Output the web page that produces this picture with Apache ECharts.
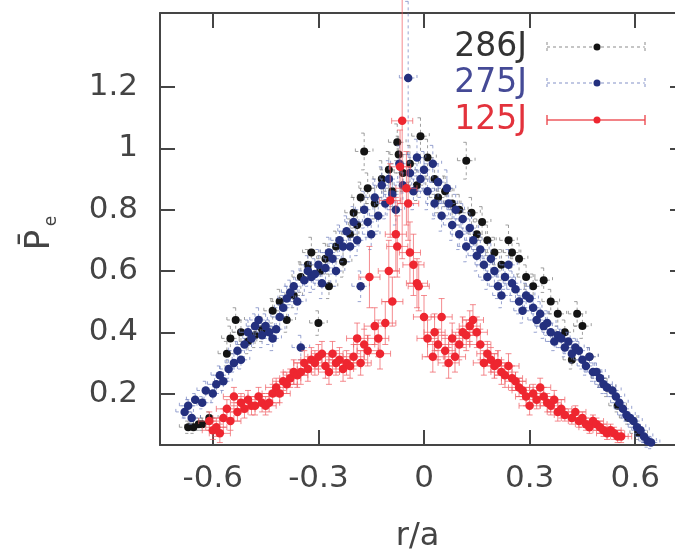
<!DOCTYPE html>
<html><head><meta charset="utf-8">
<script src="https://cdn.jsdelivr.net/npm/echarts@6/dist/echarts.min.js"></script>
<style>html,body{margin:0;padding:0;background:#fff}#c{width:675px;height:558px}</style>
</head><body><div id="c"></div>
<script>
// ---- data ----
const xTicks = [-0.6, -0.3, 0, 0.3, 0.6];
const yTicks = [0.2, 0.4, 0.6, 0.8, 1, 1.2];
const seriesNames = ['286J', '275J', '125J'];

const x286 = [-0.67,-0.655,-0.64,-0.63,-0.61,-0.56,-0.55,-0.535,-0.52,-0.50,-0.48,-0.46,-0.43,-0.41,-0.39,-0.37,-0.35,-0.33,-0.32,-0.30,-0.295,-0.28,-0.27,-0.25,-0.23,-0.21,-0.20,-0.19,-0.18,-0.17,-0.16,-0.14,-0.12,-0.10,-0.09,-0.076,-0.072,-0.06,-0.04,-0.02,-0.01,0.01,0.03,0.04,0.06,0.08,0.10,0.12,0.135,0.15,0.165,0.18,0.20,0.22,0.24,0.25,0.27,0.29,0.31,0.34,0.36,0.38,0.40,0.42,0.435,0.45,0.47,0.50,0.52,0.55,0.58,0.61];
const y286 = [0.09,0.09,0.10,0.10,0.12,0.33,0.38,0.44,0.40,0.37,0.39,0.41,0.47,0.50,0.44,0.52,0.58,0.62,0.66,0.43,0.60,0.64,0.55,0.68,0.63,0.72,0.79,0.75,0.84,0.99,0.87,0.82,0.90,0.93,0.86,1.02,0.98,0.92,0.95,0.88,1.04,0.97,0.90,0.84,0.86,0.82,0.80,0.96,0.79,0.72,0.76,0.70,0.66,0.62,0.70,0.66,0.64,0.58,0.55,0.57,0.50,0.46,0.40,0.31,0.46,0.42,0.32,0.25,0.22,0.16,0.12,0.07];
const dy286 = [0.02,0.02,0.02,0.02,0.02,0.04,0.04,0.04,0.04,0.04,0.04,0.04,0.04,0.04,0.04,0.04,0.05,0.05,0.05,0.04,0.05,0.05,0.04,0.05,0.05,0.05,0.05,0.05,0.05,0.06,0.05,0.05,0.06,0.06,0.05,0.06,0.06,0.06,0.06,0.05,0.06,0.06,0.05,0.05,0.05,0.05,0.05,0.06,0.05,0.05,0.05,0.05,0.05,0.05,0.05,0.05,0.05,0.04,0.04,0.04,0.04,0.04,0.04,0.03,0.04,0.04,0.03,0.03,0.03,0.02,0.02,0.02];
const dx286 = 0.025;

const x275 = [-0.68,-0.67,-0.66,-0.65,-0.63,-0.62,-0.60,-0.59,-0.58,-0.57,-0.555,-0.54,-0.53,-0.52,-0.51,-0.50,-0.49,-0.48,-0.47,-0.46,-0.45,-0.44,-0.43,-0.42,-0.41,-0.40,-0.39,-0.38,-0.37,-0.36,-0.35,-0.34,-0.33,-0.32,-0.31,-0.30,-0.29,-0.28,-0.27,-0.26,-0.25,-0.24,-0.23,-0.22,-0.21,-0.20,-0.19,-0.18,-0.17,-0.16,-0.15,-0.14,-0.13,-0.12,-0.11,-0.10,-0.09,-0.08,-0.07,-0.06,-0.045,-0.04,-0.03,-0.02,-0.01,0.00,0.01,0.025,0.03,0.04,0.05,0.065,0.07,0.08,0.09,0.10,0.11,0.12,0.13,0.14,0.15,0.16,0.17,0.18,0.19,0.20,0.21,0.22,0.23,0.24,0.25,0.26,0.27,0.28,0.29,0.30,0.31,0.32,0.33,0.34,0.35,0.36,0.37,0.38,0.39,0.40,0.41,0.42,0.43,0.44,0.45,0.46,0.47,0.48,0.49,0.50,0.51,0.52,0.535,0.545,0.555,0.565,0.575,0.585,0.595,0.605,0.615,0.625,0.635,0.645];
const y275 = [0.14,0.16,0.12,0.18,0.17,0.21,0.20,0.23,0.26,0.24,0.28,0.30,0.34,0.31,0.36,0.40,0.38,0.42,0.44,0.39,0.42,0.40,0.38,0.41,0.45,0.48,0.51,0.53,0.55,0.50,0.35,0.57,0.60,0.58,0.59,0.62,0.56,0.61,0.66,0.64,0.60,0.70,0.68,0.73,0.68,0.76,0.70,0.55,0.80,0.76,0.72,0.84,0.78,0.88,0.82,0.90,0.85,0.80,0.95,0.88,1.23,0.92,0.86,0.97,0.90,0.93,0.86,0.95,0.82,0.89,0.78,0.87,0.82,0.75,0.80,0.72,0.77,0.68,0.74,0.70,0.65,0.67,0.62,0.58,0.64,0.60,0.55,0.52,0.58,0.62,0.56,0.54,0.50,0.47,0.52,0.51,0.48,0.44,0.46,0.42,0.43,0.40,0.37,0.39,0.38,0.35,0.37,0.33,0.35,0.34,0.31,0.29,0.32,0.27,0.27,0.25,0.23,0.22,0.21,0.19,0.17,0.15,0.13,0.12,0.11,0.09,0.08,0.06,0.045,0.04];
const dy275 = [0.02,0.02,0.02,0.02,0.02,0.03,0.03,0.03,0.03,0.03,0.03,0.03,0.03,0.03,0.04,0.04,0.04,0.04,0.04,0.04,0.04,0.04,0.04,0.04,0.04,0.04,0.04,0.04,0.05,0.04,0.04,0.05,0.05,0.05,0.05,0.05,0.05,0.05,0.05,0.05,0.05,0.05,0.05,0.05,0.05,0.05,0.05,0.05,0.06,0.05,0.05,0.06,0.05,0.06,0.05,0.06,0.05,0.05,0.06,0.06,0.25,0.06,0.06,0.06,0.06,0.06,0.06,0.06,0.05,0.06,0.05,0.06,0.05,0.05,0.05,0.05,0.05,0.05,0.05,0.05,0.05,0.05,0.05,0.04,0.05,0.05,0.04,0.04,0.04,0.05,0.04,0.04,0.04,0.04,0.04,0.04,0.04,0.04,0.04,0.04,0.04,0.03,0.03,0.03,0.03,0.03,0.03,0.03,0.03,0.03,0.03,0.03,0.03,0.03,0.03,0.03,0.03,0.02,0.02,0.02,0.02,0.02,0.02,0.02,0.02,0.02,0.02,0.02,0.02,0.02];
const dx275 = 0.025;

const x125 = [-0.61,-0.60,-0.59,-0.58,-0.57,-0.56,-0.55,-0.54,-0.53,-0.52,-0.51,-0.50,-0.49,-0.48,-0.47,-0.46,-0.45,-0.44,-0.43,-0.42,-0.41,-0.40,-0.39,-0.38,-0.37,-0.36,-0.35,-0.34,-0.33,-0.32,-0.31,-0.30,-0.29,-0.28,-0.27,-0.26,-0.25,-0.24,-0.23,-0.22,-0.21,-0.20,-0.19,-0.18,-0.17,-0.16,-0.155,-0.14,-0.13,-0.125,-0.11,-0.10,-0.096,-0.09,-0.08,-0.076,-0.068,-0.062,-0.05,-0.045,-0.04,-0.03,-0.02,-0.015,0.00,0.01,0.025,0.03,0.04,0.05,0.06,0.07,0.08,0.088,0.10,0.11,0.12,0.13,0.139,0.15,0.16,0.17,0.18,0.19,0.20,0.21,0.22,0.23,0.24,0.25,0.26,0.27,0.28,0.29,0.30,0.31,0.32,0.33,0.34,0.35,0.36,0.37,0.38,0.39,0.40,0.42,0.43,0.44,0.45,0.46,0.47,0.48,0.49,0.50,0.51,0.52,0.53,0.54,0.55,0.56];
const y125 = [0.11,0.08,0.09,0.07,0.12,0.15,0.11,0.19,0.14,0.17,0.15,0.18,0.16,0.16,0.19,0.17,0.16,0.17,0.20,0.22,0.20,0.24,0.23,0.25,0.27,0.26,0.27,0.30,0.28,0.31,0.30,0.32,0.33,0.29,0.27,0.33,0.30,0.31,0.28,0.30,0.29,0.32,0.38,0.30,0.36,0.34,0.58,0.42,0.38,0.33,0.43,0.60,0.83,0.50,0.72,0.68,0.94,1.09,0.87,0.82,0.66,0.62,0.56,0.55,0.45,0.38,0.32,0.40,0.36,0.45,0.34,0.30,0.38,0.32,0.36,0.40,0.39,0.42,0.44,0.40,0.36,0.30,0.33,0.31,0.29,0.30,0.27,0.26,0.29,0.25,0.24,0.22,0.21,0.19,0.16,0.20,0.18,0.22,0.19,0.17,0.16,0.18,0.14,0.15,0.13,0.12,0.14,0.11,0.12,0.10,0.09,0.11,0.10,0.09,0.08,0.07,0.08,0.07,0.06,0.06];
const dy125 = [0.03,0.03,0.03,0.03,0.03,0.03,0.03,0.03,0.03,0.03,0.03,0.03,0.03,0.03,0.03,0.03,0.03,0.03,0.03,0.03,0.03,0.03,0.03,0.03,0.04,0.04,0.04,0.04,0.04,0.04,0.04,0.04,0.04,0.04,0.04,0.04,0.04,0.04,0.04,0.04,0.04,0.04,0.05,0.04,0.05,0.05,0.10,0.06,0.06,0.05,0.07,0.10,0.12,0.08,0.12,0.10,0.12,0.45,0.12,0.12,0.10,0.10,0.08,0.08,0.07,0.06,0.05,0.06,0.05,0.06,0.05,0.05,0.05,0.05,0.05,0.05,0.05,0.05,0.05,0.05,0.05,0.04,0.04,0.04,0.04,0.04,0.04,0.04,0.04,0.04,0.03,0.03,0.03,0.03,0.03,0.03,0.03,0.03,0.03,0.03,0.03,0.03,0.03,0.03,0.02,0.02,0.02,0.02,0.02,0.02,0.02,0.02,0.02,0.02,0.02,0.02,0.02,0.02,0.02,0.02];
const dx125 = 0.03;

// ---- styling ----
const FONT = 'DejaVu Sans';
const AX = '#454545';
const pointColors = ['#141414', '#24307e', '#ee2630'];
const barColors = ['rgba(120,120,120,0.7)', 'rgba(110,125,190,0.7)', 'rgba(240,90,95,0.7)'];
const barDash = [[3, 3], [3, 3], null];
const textColors = ['#333333', '#454a96', '#e3323c'];

function build(xs, ys, dys, dx) {
  const n = Math.min(xs.length, ys.length, dys.length);
  const out = [];
  for (let i = 0; i < n; i++) out.push([xs[i], ys[i], dx, dys[i]]);
  return out;
}
const data = [build(x286, y286, dy286, dx286), build(x275, y275, dy275, dx275), build(x125, y125, dy125, dx125)];

function errRender(k) {
  return function (params, api) {
    const x = api.value(0), y = api.value(1), dx = api.value(2), dy = api.value(3);
    const l = api.coord([x - dx, y]), r = api.coord([x + dx, y]);
    const t = api.coord([x, y + dy]), b = api.coord([x, y - dy]);
    const st = { stroke: barColors[k], lineWidth: 1, lineDash: barDash[k], fill: null };
    const c = 3;
    return {
      type: 'group', children: [
        { type: 'line', shape: { x1: l[0], y1: l[1], x2: r[0], y2: r[1] }, style: st },
        { type: 'line', shape: { x1: t[0], y1: t[1], x2: b[0], y2: b[1] }, style: st },
        { type: 'line', shape: { x1: l[0], y1: l[1] - c, x2: l[0], y2: l[1] + c }, style: st },
        { type: 'line', shape: { x1: r[0], y1: r[1] - c, x2: r[0], y2: r[1] + c }, style: st },
        { type: 'line', shape: { x1: t[0] - c, y1: t[1], x2: t[0] + c, y2: t[1] }, style: st },
        { type: 'line', shape: { x1: b[0] - c, y1: b[1], x2: b[0] + c, y2: b[1] }, style: st }
      ]
    };
  };
}

const series = [];
const sizes = [8, 8.5, 8.5];
for (let k = 0; k < 3; k++) {
  series.push({
    type: 'custom', name: seriesNames[k] + ' err', renderItem: errRender(k),
    data: data[k], encode: { x: 0, y: 1 }, clip: false, silent: true, z: 2 + k * 2
  });
  series.push({
    type: 'scatter', name: seriesNames[k], data: data[k].map(d => [d[0], d[1]]),
    symbol: 'circle', symbolSize: sizes[k], itemStyle: { color: pointColors[k], opacity: 1 },
    silent: true, z: 3 + k * 2
  });
}

const axisLine = { show: true, onZero: false, lineStyle: { color: AX, width: 2 } };
const tickStyle = (vals, len) => ({ show: true, inside: true, length: len, customValues: vals, lineStyle: { color: AX, width: 2 } });
const labelStyle = (vals, m) => ({ show: true, customValues: vals, fontSize: 31, fontFamily: FONT, color: '#444', margin: m });

// legend (drawn as graphic)
const legendYs = [47, 83, 120];
const graphics = [];
for (let k = 0; k < 3; k++) {
  const y = legendYs[k];
  const st = { stroke: k === 2 ? 'rgba(235,70,75,0.9)' : barColors[k], lineWidth: k === 2 ? 1.5 : 1.2, lineDash: barDash[k] };
  graphics.push({ type: 'text', x: 527, y: y, style: { text: seriesNames[k], font: '33px "' + FONT + '"', fill: textColors[k], align: 'right', verticalAlign: 'middle' } });
  graphics.push({ type: 'line', shape: { x1: 547, y1: y, x2: 645, y2: y }, style: st });
  graphics.push({ type: 'line', shape: { x1: 547, y1: y - 5, x2: 547, y2: y + 5 }, style: st });
  graphics.push({ type: 'line', shape: { x1: 645, y1: y - 5, x2: 645, y2: y + 5 }, style: st });
  graphics.push({ type: 'circle', shape: { cx: 597, cy: y, r: 3.5 }, style: { fill: pointColors[k] } });
}
// y-axis title P̄e rotated
graphics.push({
  type: 'group', x: 40, y: 240, rotation: Math.PI / 2, children: [
    { type: 'text', x: 0, y: 0, style: { text: 'P\u0304', font: '34px "' + FONT + '"', fill: '#444', align: 'center', verticalAlign: 'middle' } },
    { type: 'text', x: 19, y: 12, style: { text: 'e', font: '17px "' + FONT + '"', fill: '#444', align: 'center', verticalAlign: 'middle' } }
  ]
});

const chart = echarts.init(document.getElementById('c'), null, { renderer: 'canvas' });
chart.setOption({
  animation: false,
  backgroundColor: '#ffffff',
  grid: { left: 160, top: 13, right: 0, bottom: 108, containLabel: false },
  xAxis: [
    { type: 'value', min: -0.75, max: 0.713, position: 'bottom', axisLine, axisTick: tickStyle(xTicks, 15),
      axisLabel: labelStyle(xTicks, 18), splitLine: { show: false },
      name: 'r/a', nameLocation: 'middle', nameGap: 76,
      nameTextStyle: { fontSize: 32, fontFamily: FONT, color: '#444', verticalAlign: 'top' } },
    { type: 'value', min: -0.75, max: 0.713, position: 'top', axisLine, axisTick: tickStyle(xTicks, 15),
      axisLabel: { show: false }, splitLine: { show: false } }
  ],
  yAxis: [
    { type: 'value', min: 0.032, max: 1.442, position: 'left', axisLine, axisTick: tickStyle(yTicks, 15),
      axisLabel: labelStyle(yTicks, 22), splitLine: { show: false } },
    { type: 'value', min: 0.032, max: 1.442, position: 'right', axisLine: { show: false, onZero: false },
      axisTick: tickStyle(yTicks, 5), axisLabel: { show: false }, splitLine: { show: false } }
  ],
  graphic: graphics,
  series
});
</script>
</body></html>
